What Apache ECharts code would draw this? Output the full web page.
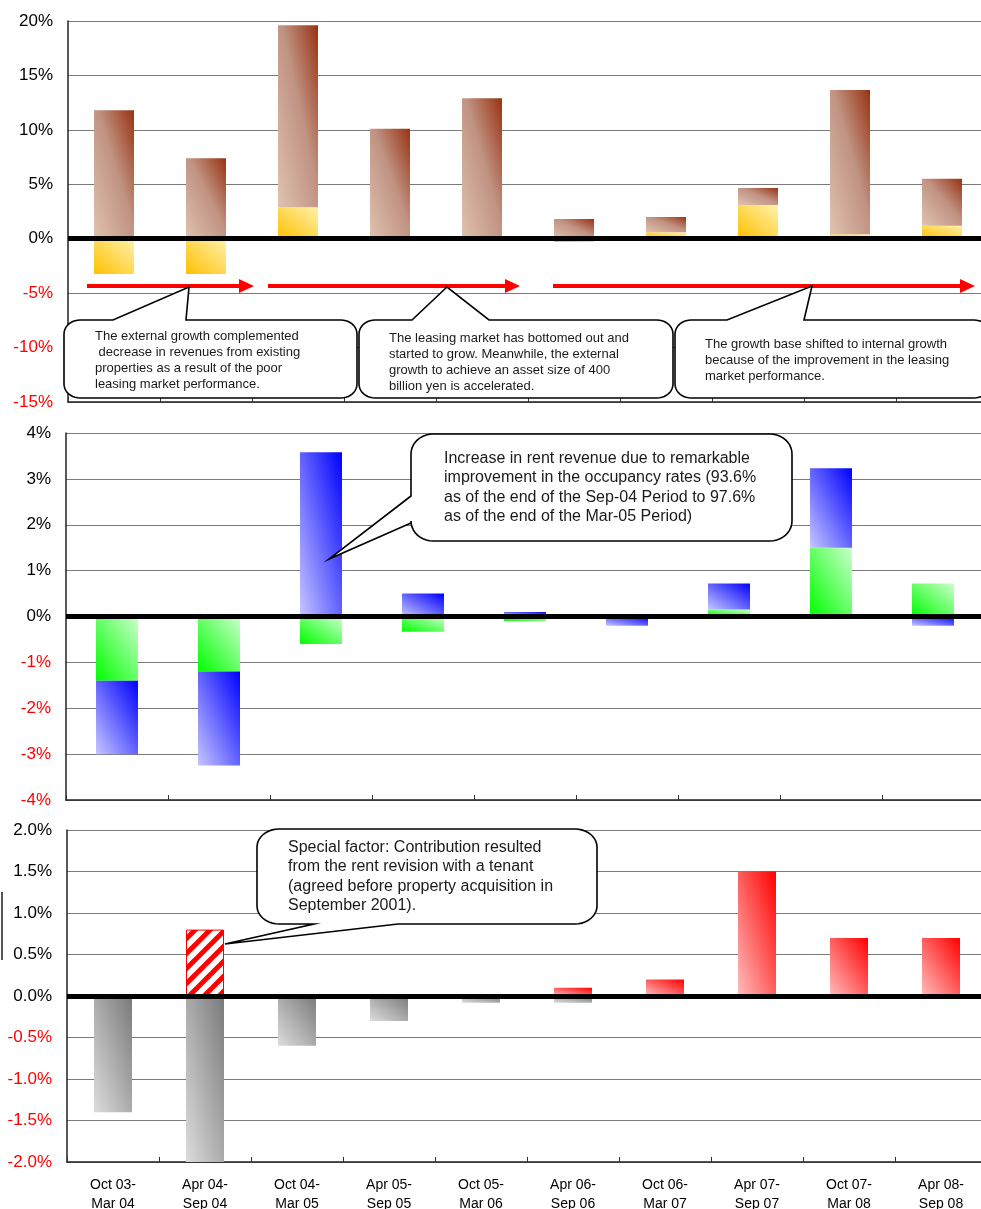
<!DOCTYPE html>
<html>
<head>
<meta charset="utf-8">
<script src="https://cdn.jsdelivr.net/npm/echarts@6/dist/echarts.min.js"></script>
<style>
  html, body { margin: 0; padding: 0; background: #fff; }
  #chart { width: 981px; height: 1209px; }
</style>
</head>
<body>
<div id="chart"></div>
<script>
// Six-month fiscal periods
const periodStart = ['Oct 03-', 'Apr 04-', 'Oct 04-', 'Apr 05-', 'Oct 05-', 'Apr 06-', 'Oct 06-', 'Apr 07-', 'Oct 07-', 'Apr 08-'];
const periodEnd   = ['Mar 04', 'Sep 04', 'Mar 05', 'Sep 05', 'Mar 06', 'Sep 06', 'Mar 07', 'Sep 07', 'Mar 08', 'Sep 08'];
const categories = periodStart.map((s, i) => s + '\n' + periodEnd[i]);

// Revenue growth breakdown (%): existing properties vs. external growth
const existingGrowth = [-3.25, -3.25, 2.9, 0, 0, -0.3, 0.6, 3.1, 0.4, 1.2];
const externalGrowth = [11.8, 7.4, 16.7, 10.1, 12.9, 1.8, 1.4, 1.55, 13.25, 4.3];

// Existing-property revenue breakdown (%)
const otherFactor = [-1.4, -1.2, -0.6, -0.33, -0.1, 0, 0.15, 1.5, 0.72, null];
const occupancyFactor = [-1.6, -2.05, 3.58, 0.5, 0.1, -0.2, 0.57, 1.73, -0.2, null];

// Rent revision effect (%)
const rentDecrease = [-1.4, -2.0, -0.6, -0.3, -0.08, -0.08, null, null, null, null];
const rentIncrease = [null, 0.8, null, null, null, 0.1, 0.2, 1.5, 0.7, 0.7];
const specialFactorIndex = 1;

// Axis settings
const topAxis = { min: -15, max: 20, interval: 5 };
const midAxis = { min: -4, max: 4, interval: 1 };
const lowAxis = { min: -2, max: 2, interval: 0.5 };

const FONT = '"Liberation Sans", Arial, sans-serif';

const grids = [
  { left: 68, top: 21, width: 920, height: 381 },
  { left: 66, top: 433, width: 1020, height: 367 },
  { left: 67, top: 830, width: 920, height: 332 }
];
const barWidths = [40, 42, 38];

// Diagonal two-tone fill whose isolines run corner to corner of each bar
function diagFill(value, gridIdx, axis, stops) {
  const pxPerUnit = grids[gridIdx].height / (axis.max - axis.min);
  const h = Math.max(Math.abs(value) * pxPerUnit, 1);
  const w = barWidths[gridIdx];
  const k = h * h + w * w;
  const a = h * h / k, b = w * w / k;
  return new echarts.graphic.LinearGradient(0.5 - a, 0.5 + b, 0.5 + a, 0.5 - b,
    stops.map(s => ({ offset: s[0], color: s[1] })));
}

const BROWN = [[0, '#e0c2b0'], [0.55, '#c09282'], [1, '#983312']];
const YELLOW = [[0, '#ffc000'], [1, '#fff2ad']];
const GREEN = [[0, '#00ff00'], [1, '#ccffcc']];
const BLUE = [[0, '#c6c6ff'], [1, '#0000ff']];
const GREY = [[0, '#dcdcdc'], [1, '#7a7a7a']];
const RED = [[0, '#ffbdbd'], [1, '#ff0000']];

function styled(values, gridIdx, axis, stops) {
  return values.map(v => v == null ? null : ({ value: v, itemStyle: { color: diagFill(v, gridIdx, axis, stops) } }));
}

// Red/white hatch for the special factor bar
function hatchPattern() {
  const c = document.createElement('canvas');
  c.width = 15; c.height = 15;
  const ctx = c.getContext('2d');
  ctx.fillStyle = '#ffffff';
  ctx.fillRect(0, 0, 15, 15);
  ctx.strokeStyle = '#ff0000';
  ctx.lineWidth = 5;
  [0, 15, 30].forEach(cc => {
    ctx.beginPath();
    ctx.moveTo(cc - 20, 20);
    ctx.lineTo(cc + 5, -5);
    ctx.stroke();
  });
  return { image: c, repeat: 'repeat' };
}

const redData = styled(rentIncrease, 2, lowAxis, RED);
redData[specialFactorIndex] = {
  value: rentIncrease[specialFactorIndex],
  itemStyle: { color: hatchPattern(), borderColor: '#ff0000', borderWidth: 1 }
};

function pctLabel(decimals) {
  return v => {
    const t = (decimals ? v.toFixed(decimals) : String(Math.round(v))) + '%';
    return v < 0 ? '{n|' + t + '}' : '{p|' + t + '}';
  };
}
const labelRich = {
  n: { color: '#ff0000', fontSize: 17, fontFamily: FONT },
  p: { color: '#000000', fontSize: 17, fontFamily: FONT }
};

function yAxisFor(gridIndex, axis, decimals) {
  return {
    type: 'value', gridIndex, min: axis.min, max: axis.max, interval: axis.interval,
    axisLine: { show: true, lineStyle: { color: '#222', width: 1.5 } },
    axisTick: { show: false },
    splitLine: { show: true, lineStyle: { color: '#7a7a7a', width: 1.2 } },
    axisLabel: { formatter: pctLabel(decimals), rich: labelRich, margin: 15 }
  };
}

function xAxisFor(gridIndex, showLabels) {
  return {
    type: 'category', gridIndex, data: categories, boundaryGap: true,
    axisLine: { show: true, onZero: false, lineStyle: { color: '#222', width: 1.5 } },
    axisTick: { show: true, inside: true, length: 5, lineStyle: { color: '#333', width: 1 } },
    splitLine: { show: false },
    axisLabel: showLabels
      ? { show: true, interval: 0, color: '#000', fontSize: 14, fontFamily: FONT, lineHeight: 19, margin: 14 }
      : { show: false }
  };
}

const zeroLine = {
  silent: true, symbol: 'none', animation: false,
  label: { show: false },
  lineStyle: { color: '#000', width: 5, type: 'solid' },
  data: [{ yAxis: 0 }]
};

// Callout outline: rounded box with a wedge pointer
function calloutPoints(x, y, w, h, rx, ry, ptr) {
  const pts = [];
  const arc = (cx, cy, a0, a1) => {
    for (let i = 0; i <= 10; i++) {
      const a = a0 + (a1 - a0) * i / 10;
      pts.push([cx + rx * Math.cos(a), cy + ry * Math.sin(a)]);
    }
  };
  arc(x + rx, y + ry, Math.PI, 1.5 * Math.PI);
  if (ptr.side === 'top') pts.push([ptr.a, y], ptr.tip, [ptr.b, y]);
  arc(x + w - rx, y + ry, 1.5 * Math.PI, 2 * Math.PI);
  arc(x + w - rx, y + h - ry, 0, 0.5 * Math.PI);
  if (ptr.side === 'bottom') pts.push([ptr.b, y + h], ptr.tip, [ptr.a, y + h]);
  arc(x + rx, y + h - ry, 0.5 * Math.PI, Math.PI);
  if (ptr.side === 'left') pts.push([x, ptr.b], ptr.tip, [x, ptr.a]);
  return pts;
}

function callout(box, ptr, text, tx, ty, fontSize, lineHeight) {
  return [
    {
      type: 'polygon', z: 100,
      shape: { points: calloutPoints(box[0], box[1], box[2], box[3], box[4], box[5], ptr) },
      style: { fill: '#ffffff', stroke: '#000000', lineWidth: 1.6 }
    },
    {
      type: 'text', z: 101, x: tx, y: ty,
      style: { text, fill: '#1a1a1a', fontSize, fontFamily: FONT, lineHeight, verticalAlign: 'top', align: 'left' }
    }
  ];
}

function arrow(x0, x1, y) {
  return [
    { type: 'line', z: 90, shape: { x1: x0, y1: y, x2: x1 - 12, y2: y }, style: { stroke: '#ff0000', lineWidth: 4 } },
    { type: 'polygon', z: 90, shape: { points: [[x1 - 15, y - 7], [x1, y], [x1 - 15, y + 7]] }, style: { fill: '#ff0000' } }
  ];
}

const graphics = [].concat(
  arrow(87, 254, 286),
  arrow(268, 520, 286),
  arrow(553, 975, 286),
  callout([64, 320, 293, 78, 16, 14], { side: 'top', a: 113, b: 186, tip: [189, 287] },
    'The external growth complemented\n decrease in revenues from existing\nproperties as a result of the poor\nleasing market performance.', 95, 328, 13, 16),
  callout([359, 320, 314, 78, 16, 14], { side: 'top', a: 412, b: 489, tip: [447, 287] },
    'The leasing market has bottomed out and\nstarted to grow. Meanwhile, the external\ngrowth to achieve an asset size of 400\nbillion yen is accelerated.', 389, 330, 13, 16),
  callout([675, 320, 315, 78, 16, 14], { side: 'top', a: 727, b: 804, tip: [812, 286] },
    'The growth base shifted to internal growth\nbecause of the improvement in the leasing\nmarket performance.', 705, 336, 13, 16.3),
  callout([411, 434, 381, 107, 22, 20], { side: 'left', a: 496, b: 523, tip: [329, 559] },
    'Increase in rent revenue due to remarkable\nimprovement in the occupancy rates (93.6%\nas of the end of the Sep-04 Period to 97.6%\nas of the end of the Mar-05 Period)', 444, 449, 16, 19.3),
  callout([257, 829, 340, 95, 22, 18], { side: 'bottom', a: 314, b: 398, tip: [225, 944] },
    'Special factor: Contribution resulted\nfrom the rent revision with a tenant\n(agreed before property acquisition in\nSeptember 2001).', 288, 838, 16, 19.3),
  [{ type: 'line', z: 90, shape: { x1: 2, y1: 892, x2: 2, y2: 960 }, style: { stroke: '#555', lineWidth: 2 } }]
);

const chart = echarts.init(document.getElementById('chart'), null, { renderer: 'canvas' });
chart.setOption({
  animation: false,
  backgroundColor: '#ffffff',
  textStyle: { fontFamily: FONT },
  grid: grids.map(g => Object.assign({ containLabel: false, outerBoundsMode: 'none' }, g)),
  xAxis: [xAxisFor(0, false), xAxisFor(1, false), xAxisFor(2, true)],
  yAxis: [yAxisFor(0, topAxis, 0), yAxisFor(1, midAxis, 0), yAxisFor(2, lowAxis, 1)],
  series: [
    { name: 'Existing properties', type: 'bar', xAxisIndex: 0, yAxisIndex: 0, stack: 'top', barWidth: barWidths[0],
      data: styled(existingGrowth, 0, topAxis, YELLOW) },
    { name: 'External growth', type: 'bar', xAxisIndex: 0, yAxisIndex: 0, stack: 'top', barWidth: barWidths[0],
      data: styled(externalGrowth, 0, topAxis, BROWN), markLine: zeroLine },
    { name: 'Other factors', type: 'bar', xAxisIndex: 1, yAxisIndex: 1, stack: 'mid', barWidth: barWidths[1],
      data: styled(otherFactor, 1, midAxis, GREEN) },
    { name: 'Occupancy', type: 'bar', xAxisIndex: 1, yAxisIndex: 1, stack: 'mid', barWidth: barWidths[1],
      data: styled(occupancyFactor, 1, midAxis, BLUE), markLine: zeroLine },
    { name: 'Rent decrease', type: 'bar', xAxisIndex: 2, yAxisIndex: 2, stack: 'low', barWidth: barWidths[2],
      data: styled(rentDecrease, 2, lowAxis, GREY) },
    { name: 'Rent increase', type: 'bar', xAxisIndex: 2, yAxisIndex: 2, stack: 'low', barWidth: barWidths[2],
      data: redData, markLine: zeroLine }
  ],
  graphic: { elements: graphics }
});
</script>
</body>
</html>
